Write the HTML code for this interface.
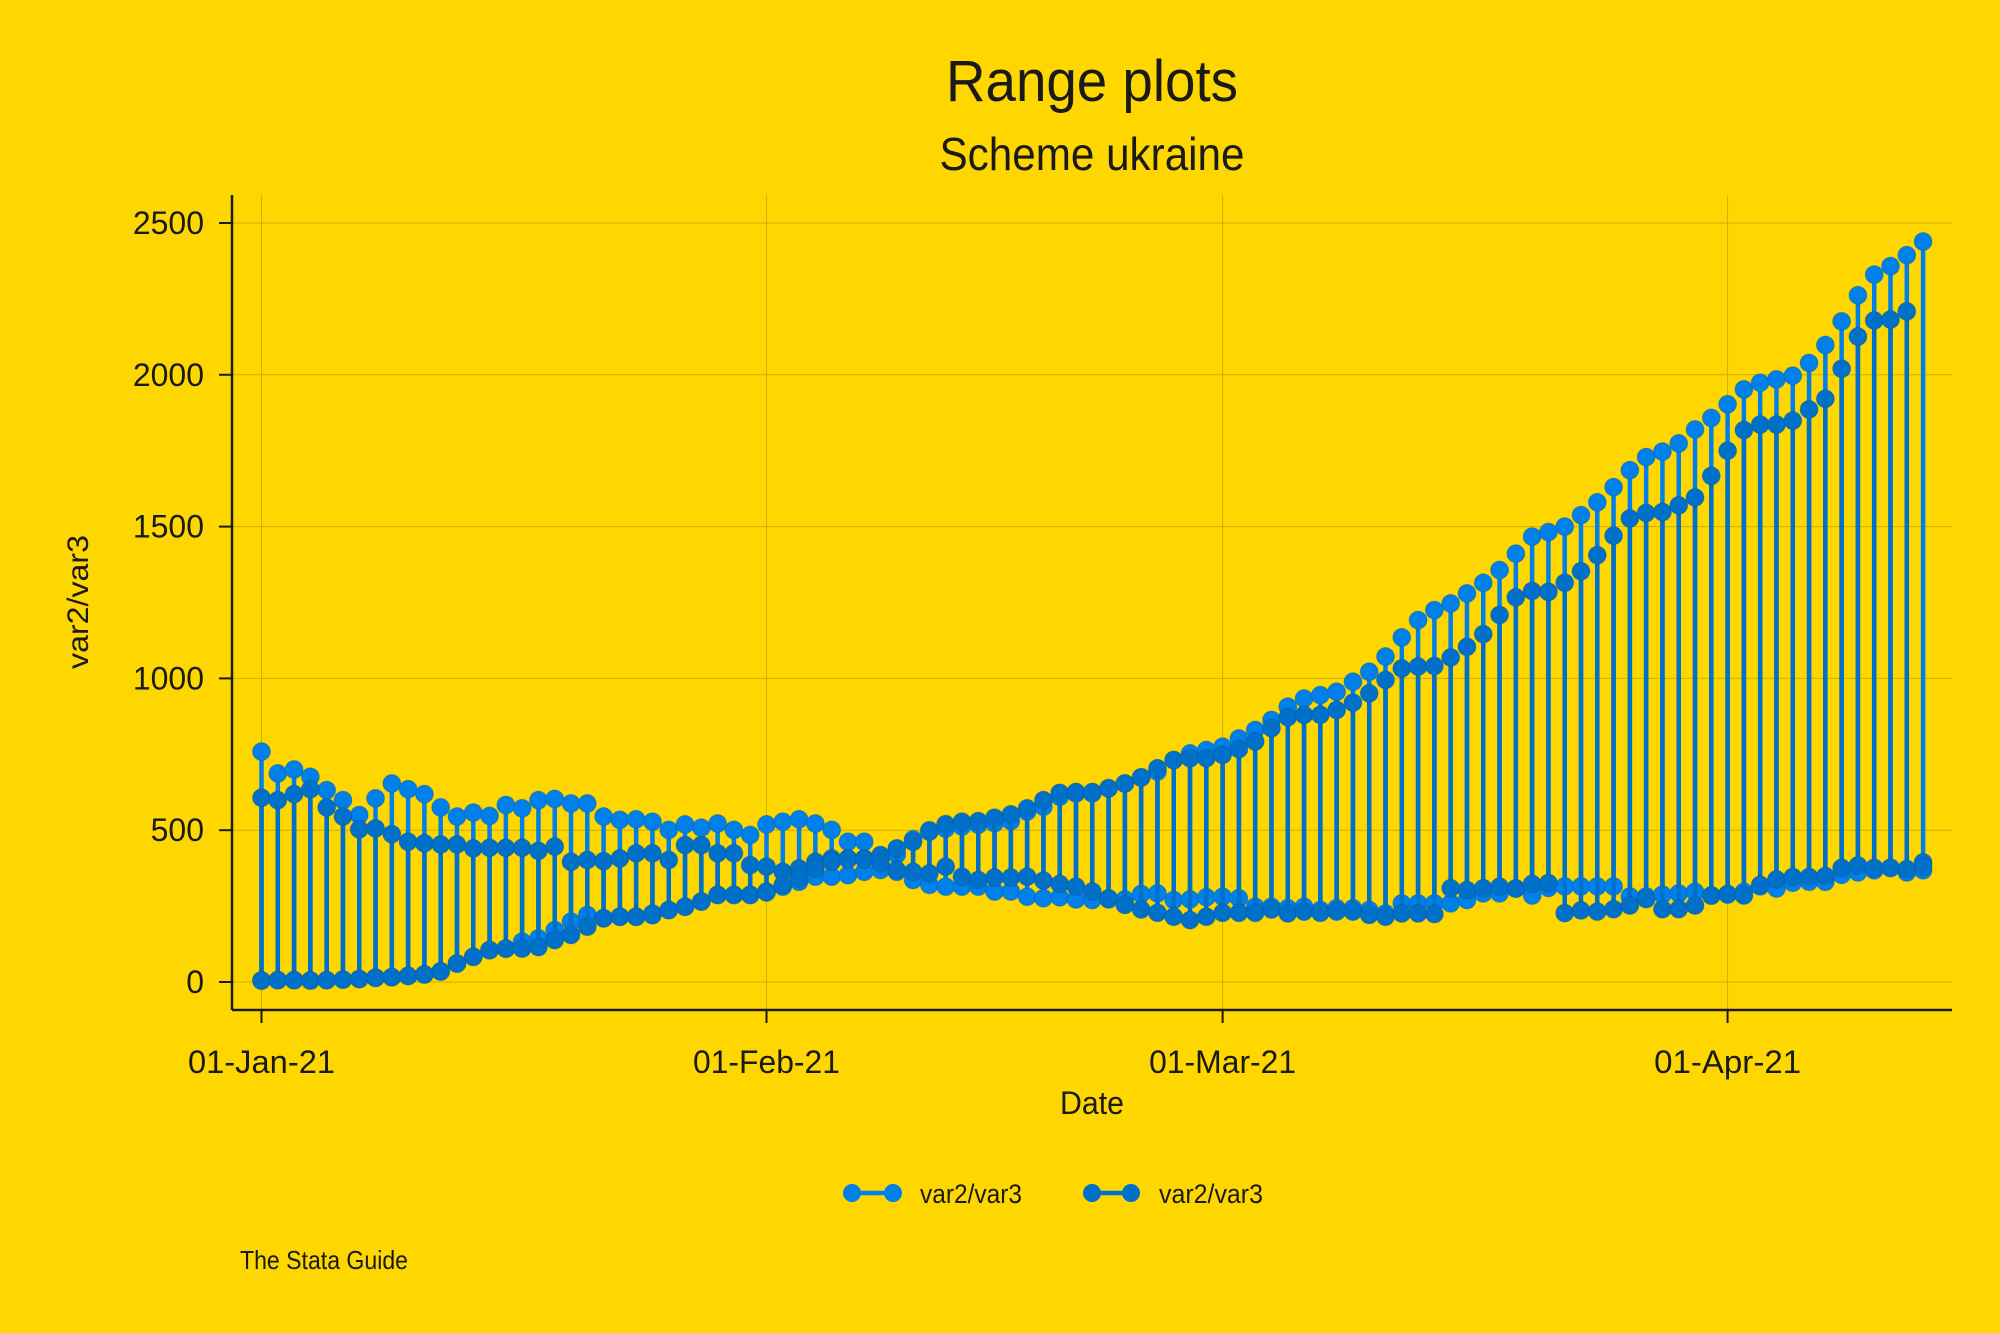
<!DOCTYPE html>
<html><head><meta charset="utf-8"><title>Range plots</title>
<style>
html,body{margin:0;padding:0;background:#FFD700;}
svg{display:block;font-family:"Liberation Sans",sans-serif;}
</style></head>
<body>
<svg id="chart" width="2000" height="1333" viewBox="0 0 2000 1333" xmlns="http://www.w3.org/2000/svg">
<rect x="0" y="0" width="2000" height="1333" fill="#FFD700"/>
<text x="1092" y="101" font-size="58" text-anchor="middle" fill="#1a1a1a" textLength="292" lengthAdjust="spacingAndGlyphs">Range plots</text>
<text x="1092" y="170" font-size="46" text-anchor="middle" fill="#1a1a1a" textLength="305" lengthAdjust="spacingAndGlyphs">Scheme ukraine</text>
<g id="grid"></g>
<g id="axes"></g>
<g id="marks"></g>
<text transform="translate(88,602) rotate(-90)" font-size="30" text-anchor="middle" fill="#1a1a1a" textLength="134" lengthAdjust="spacingAndGlyphs">var2/var3</text>
<text x="1092" y="1114" font-size="32" text-anchor="middle" fill="#1a1a1a" textLength="64" lengthAdjust="spacingAndGlyphs">Date</text>
<g>
  <g>
    <line x1="852" y1="1193" x2="893" y2="1193" stroke="#0080E8" stroke-width="4.5"/>
    <circle cx="852" cy="1193" r="9" fill="#0080E8"/><circle cx="893" cy="1193" r="9" fill="#0080E8"/>
    <text x="920" y="1203" font-size="27" fill="#1a1a1a" textLength="102" lengthAdjust="spacingAndGlyphs">var2/var3</text>
  </g>
  <g>
    <line x1="1092" y1="1193" x2="1131" y2="1193" stroke="#0070C8" stroke-width="4.5"/>
    <circle cx="1092" cy="1193" r="9" fill="#0070C8"/><circle cx="1131" cy="1193" r="9" fill="#0070C8"/>
    <text x="1159" y="1203" font-size="27" fill="#1a1a1a" textLength="104" lengthAdjust="spacingAndGlyphs">var2/var3</text>
  </g>
</g>
<text x="240" y="1269" font-size="26" fill="#1a1a1a" textLength="168" lengthAdjust="spacingAndGlyphs">The Stata Guide</text>
</svg>
<script>
const yTicks = [0, 500, 1000, 1500, 2000, 2500];
const xTickDays = [0, 31, 59, 90];
const xTickLabels = ["01-Jan-21", "01-Feb-21", "01-Mar-21", "01-Apr-21"];
const lightHi = [759,687,700,676,632,599,550,605,654,635,619,575,545,558,547,583,572,599,603,588,588,545,534,
536,528,501,519,508,522,501,484,519,528,536,522,501,462,462,
410,420,470,500,505,512,518,523,530,
561,577,610,621,621,638,654,674,693,731,753,764,775,802,830,863,907,934,945,956,989,1022,1072,1135,1192,1225,1247,1280,1315,1357,
1411,1467,1482,1500,1538,1580,1630,1686,1729,1747,1774,1820,1858,1903,1952,1974,1985,1997,2039,2098,2176,2262,2330,2358,2394,2439];
const lightLo = [5,6,6,5,6,8,10,14,16,20,25,
35,61,83,105,110,133,144,171,199,221,210,215,
215,226,237,248,265,287,287,287,298,314,330,347,347,352,363,
369,363,336,320,314,314,314,298,298,
281,276,279,272,270,276,272,290,292,270,272,279,281,276,248,248,243,248,237,243,243,237,226,259,259,259,259,270,292,292,
308,285,310,315,315,315,315,282,282,288,292,297,285,290,297,315,308,327,330,330,353,361,368,376,361,368];
const darkHi = [607,599,619,635,575,545,503,506,487,462,457,453,453,440,442,442,442,432,446,396,402,398,407,
424,424,402,451,451,424,424,385,380,363,374,396,407,407,407,
418,440,462,495,520,528,530,541,552,
572,599,623,626,626,638,654,674,704,731,737,737,748,767,792,836,872,880,880,896,920,951,995,1033,1039,1041,1069,1104,1146,1209,
1267,1288,1285,1315,1353,1406,1470,1527,1545,1548,1570,1596,1667,1750,1818,1836,1836,1849,1886,1921,2020,2126,2179,2182,2209,394];
const darkLo = [5,6,6,5,6,8,10,14,16,20,25,
35,61,83,105,110,110,115,138,155,182,210,215,
215,220,237,248,265,287,287,287,295,320,341,374,396,404,404,
391,369,363,358,380,347,336,344,344,
347,334,323,314,298,272,254,239,228,215,204,215,228,228,228,239,226,232,228,232,232,221,215,226,226,224,309,303,309,314,
308,323,326,227,236,232,240,252,273,240,240,252,285,288,285,320,338,346,346,349,376,384,376,376,372,380];

const NS = "http://www.w3.org/2000/svg";
const PL = 232, PR = 1952, PT = 195, PB = 1010;
function xScale(d){ return 261.5 + d * 16.29; }
function yScale(v){ return 982 - v * 0.3036; }
function mk(tag, attrs, parent){
  const e = document.createElementNS(NS, tag);
  for (const k in attrs) e.setAttribute(k, attrs[k]);
  parent.appendChild(e);
  return e;
}
const grid = document.getElementById('grid');
const axes = document.getElementById('axes');
const marks = document.getElementById('marks');

yTicks.forEach(v => {
  const y = yScale(v);
  const g = mk('line', {x1: PL, x2: PR, y1: y, y2: y, stroke: '#C9B100', 'stroke-width': 1}, grid);
  
  
  const t = mk('line', {x1: PL - 13, x2: PL, y1: y, y2: y, stroke: '#1a1a1a', 'stroke-width': 2}, axes);
  
  
  const l = mk('text', {x: 204, y: y + 11, 'font-size': 32, 'text-anchor': 'end', fill: '#1a1a1a'}, axes);
  l.textContent = String(v);
  
  
});
xTickDays.forEach((d, i) => {
  const x = xScale(d);
  const g = mk('line', {x1: x, x2: x, y1: PT, y2: PB, stroke: '#C9B100', 'stroke-width': 1}, grid);
  
  
  const t = mk('line', {x1: x, x2: x, y1: PB, y2: PB + 13, stroke: '#1a1a1a', 'stroke-width': 2}, axes);
  
  
  const l = mk('text', {x: x, y: 1073, 'font-size': 32, 'text-anchor': 'middle', fill: '#1a1a1a', textLength: 147, lengthAdjust: 'spacingAndGlyphs'}, axes);
  l.textContent = xTickLabels[i];
  
  
});
const ya = mk('line', {x1: PL, x2: PL, y1: PT, y2: PB, stroke: '#1a1a1a', 'stroke-width': 2.5}, axes);


const xa = mk('line', {x1: PL, x2: PR, y1: PB, y2: PB, stroke: '#1a1a1a', 'stroke-width': 2.5}, axes);



function drawSeries(hi, lo, color, name){
  const g = mk('g', {}, marks);
  
  
  hi.forEach((v, i) => {
    const x = xScale(i);
    const ln = mk('line', {x1: x, x2: x, y1: yScale(v), y2: yScale(lo[i]), stroke: color, 'stroke-width': 4.5}, g);
    
    
  });
  hi.forEach((v, i) => {
    const x = xScale(i);
    const c1 = mk('circle', {cx: x, cy: yScale(v), r: 9, fill: color, stroke: 'rgba(0,60,120,0.25)', 'stroke-width': 1}, g);
    
    
    const c2 = mk('circle', {cx: x, cy: yScale(lo[i]), r: 9, fill: color, stroke: 'rgba(0,60,120,0.25)', 'stroke-width': 1}, g);
    
    
  });
}
drawSeries(lightHi, lightLo, '#0080E8', 'series-light');
drawSeries(darkHi, darkLo, '#0070C8', 'series-dark');
</script>
</body></html>
